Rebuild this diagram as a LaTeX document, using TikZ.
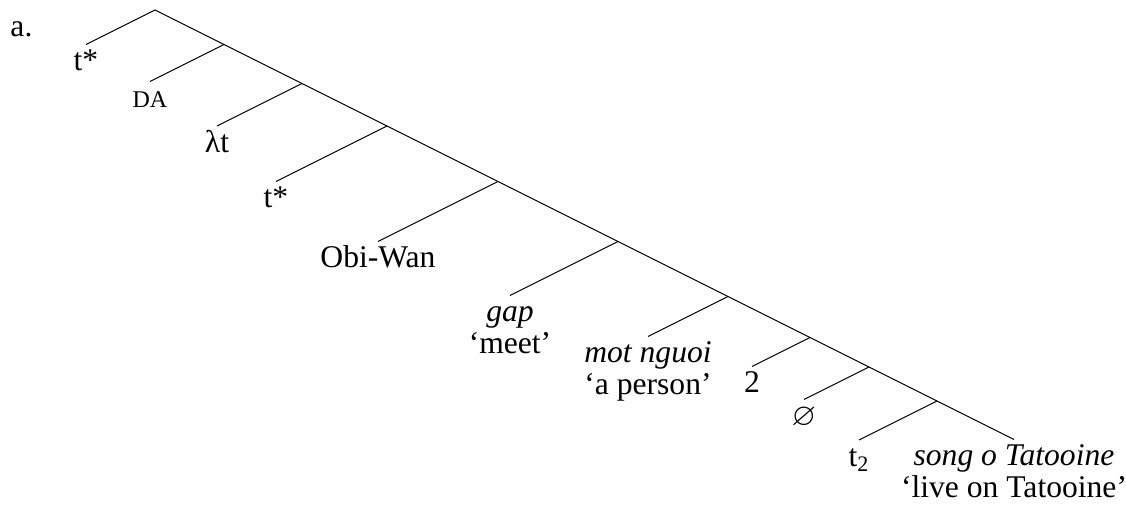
\documentclass[tikz,border=0pt]{standalone}
\usepackage{fontspec}
\setmainfont{Liberation Serif}
\usepackage{amssymb}
\usepackage{tikz}
\usetikzlibrary{positioning}
\newcommand\treefont{\fontsize{15.8}{18}\selectfont}
\newcommand\smfont{\fontsize{12}{14}\selectfont}

\begin{document}
\begin{tikzpicture}[x=0.5pt,y=-0.5pt,line width=0.5pt,
  every node/.style={font=\treefont},
  leaf/.style={anchor=north,inner sep=0pt,text height=13pt},
  gloss/.style={anchor=base,inner sep=0pt}]
\useasboundingbox(0,0)rectangle(1126,506);
% example label
\node[anchor=base west,inner sep=0pt](ex)at(10,37){a.};
% spine
\coordinate(root)at(155,10);
\coordinate(j1)at(224,44.5);
\coordinate(j2)at(302,83.5);
\coordinate(j3)at(387,126);
\coordinate(j4)at(498,181.5);
\coordinate(j5)at(618,241.5);
\coordinate(j6)at(728,296.5);
\coordinate(j7)at(810,337.5);
\coordinate(j8)at(869,367);
\coordinate(j9)at(937,401);
% leaves
\node[leaf](tstar)at(86,44.5){t*};
\node[leaf,font=\smfont](da)at(150,81.5){DA};
\node[leaf](lam)at(217,126){λt};
\node[leaf](tstarb)at(276,181.5){t*};
\node[leaf](obi)at(378,241.5){Obi-Wan};
\node[leaf](gap)at(510,295.5){\textit{gap}};
\node[leaf](mot)at(648,336.5){\textit{mot nguoi}};
\node[leaf](two)at(752,366.5){2};
\node[leaf](empty)at(804,399.5){$\varnothing$};
\node[leaf](ttwo)at(859,440){t\textsubscript{2}};
\node[leaf](song)at(1014,439.5){\textit{song o Tatooine}};
% glosses
\node[below=16pt of gap.base,gloss](meet){`meet'};
\node[below=16pt of mot.base,gloss](person){`a person'};
\node[below=16pt of song.base,gloss](live){`live on Tatooine'};
% branches
\draw(tstar.north)--(root)--(j1)--(j2)--(j3)--(j4)--(j5)--(j6)--(j7)--(j8)--(j9)--(song.north);
\draw(j1)--(da.north)
(j2)--(lam.north)
(j3)--(tstarb.north)
(j4)--(obi.north)
(j5)--(gap.north)
(j6)--(mot.north)
(j7)--(two.north)
(j8)--(empty.north)
(j9)--(ttwo.north);
\end{tikzpicture}
\end{document}
